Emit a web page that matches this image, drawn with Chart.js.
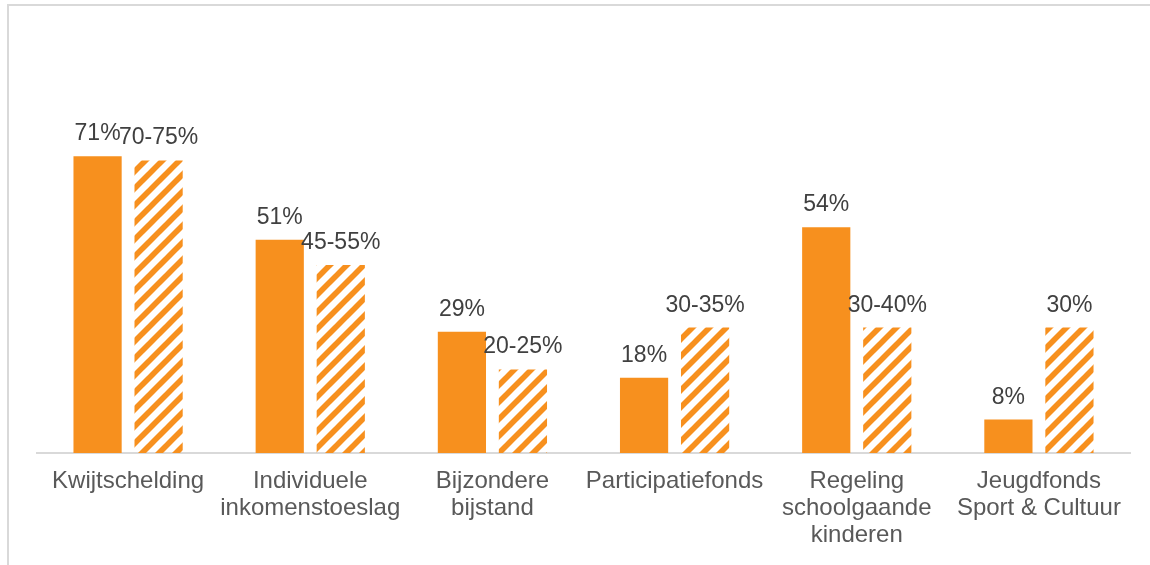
<!DOCTYPE html>
<html>
<head>
<meta charset="utf-8">
<script src="https://cdn.jsdelivr.net/npm/chart.js@4/dist/chart.umd.min.js"></script>
<style>
  html, body { margin: 0; padding: 0; background: #fff; }
  #wrap { position: relative; width: 1150px; height: 565px; overflow: hidden; }
  #frame {
    position: absolute; left: 7px; top: 4px; width: 1300px; height: 700px;
    border-top: 2px solid #d9d9d9; border-left: 2px solid #d9d9d9;
  }
  #box { position: absolute; left: 0; top: 0; width: 1150px; height: 565px; }
</style>
</head>
<body>
<div id="wrap">
  <div id="frame"></div>
  <div id="box"><canvas id="grafiek"></canvas></div>
</div>
<script>
const categories = [
  "Kwijtschelding",
  ["Individuele", "inkomenstoeslag"],
  ["Bijzondere", "bijstand"],
  "Participatiefonds",
  ["Regeling", "schoolgaande", "kinderen"],
  ["Jeugdfonds", "Sport & Cultuur"]
];
const gebruik = [71, 51, 29, 18, 54, 8];
const gebruikLabels = ["71%", "51%", "29%", "18%", "54%", "8%"];
const schatting = [70, 45, 20, 30, 30, 30];
const schattingLabels = ["70-75%", "45-55%", "20-25%", "30-35%", "30-40%", "30%"];

const oranje = "#f7901e";
const fontFam = "'Liberation Sans', Arial, sans-serif";

// diagonale arcering voor de tweede reeks
function maakArcering() {
  const s = 17;
  const c = document.createElement("canvas");
  c.width = s; c.height = s;
  const g = c.getContext("2d");
  g.strokeStyle = oranje;
  g.lineWidth = 5.6;
  for (const x0 of [-s, 0, s]) {
    g.beginPath();
    g.moveTo(x0 - 2, s + 2);
    g.lineTo(x0 + s + 2, -2);
    g.stroke();
  }
  return g.createPattern(c, "repeat");
}

const labelPlugin = {
  id: "waardeLabels",
  afterDatasetsDraw(chart) {
    const ctx = chart.ctx;
    const teksten = [gebruikLabels, schattingLabels];
    ctx.save();
    ctx.font = "23px " + fontFam;
    ctx.fillStyle = "#404040";
    ctx.textAlign = "center";
    ctx.textBaseline = "alphabetic";
    chart.data.datasets.forEach((ds, i) => {
      chart.getDatasetMeta(i).data.forEach((bar, j) => {
        ctx.fillText(teksten[i][j], bar.x, bar.y - 16);
      });
    });
    ctx.restore();
  }
};

const ctx = document.getElementById("grafiek").getContext("2d");
new Chart(ctx, {
  type: "bar",
  data: {
    labels: categories,
    datasets: [
      { label: "Gebruik", data: gebruik, backgroundColor: oranje },
      { label: "Schatting", data: schatting, backgroundColor: maakArcering() }
    ]
  },
  options: {
    responsive: true,
    maintainAspectRatio: false,
    animation: false,
    events: [],
    datasets: { bar: { categoryPercentage: 0.67, barPercentage: 0.79 } },
    layout: { padding: { left: 37, right: 20, top: 35, bottom: 0 } },
    plugins: { legend: { display: false }, tooltip: { enabled: false } },
    scales: {
      x: {
        grid: { display: false, drawTicks: false },
        border: { display: true, color: "#d9d9d9", width: 2 },
        ticks: {
          color: "#595959",
          padding: 15,
          maxRotation: 0,
          autoSkip: false,
          font: { family: fontFam, size: 24, lineHeight: 1.13 }
        },
        afterFit(scale) { scale.height = 112; }
      },
      y: { display: false, min: 0, max: 100 }
    }
  },
  plugins: [labelPlugin]
});
</script>
</body>
</html>
